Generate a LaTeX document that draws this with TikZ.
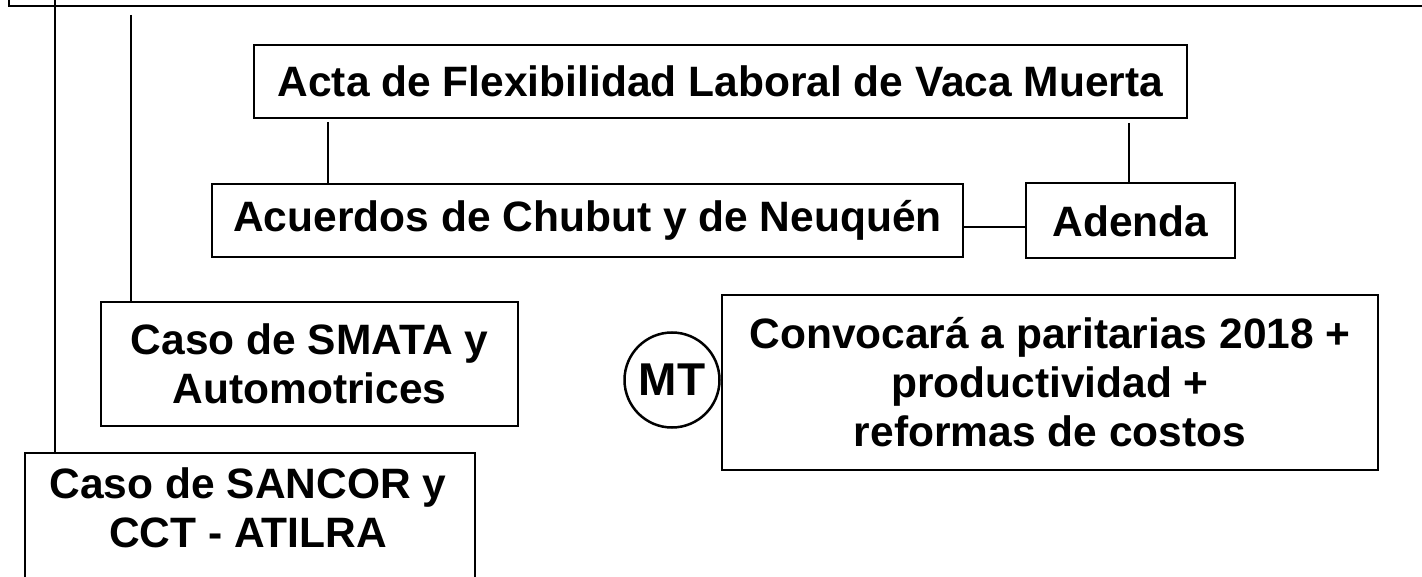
\documentclass[tikz,border=0pt]{standalone}
\usepackage{fontspec}
\setmainfont{Liberation Sans}
\begin{document}
\begin{tikzpicture}[x=1pt,y=-1pt,
  box/.style={draw, line width=2pt, inner sep=0pt, align=center,
    font=\bfseries\fontsize{42.5}{49}\selectfont},
  conn/.style={line width=1.6pt}]
\useasboundingbox (0,0) rectangle (1422,577);
\clip (0,0) rectangle (1422,577);
\node[draw, line width=2.5pt, minimum width=1441pt, minimum height=46pt, inner sep=0pt] (frame) at (729.5,-17) {};
\node[box, minimum width=933pt, minimum height=73pt] (acta) at (720.5,81.5) {Acta de Flexibilidad Laboral de Vaca Muerta};
\node[box, minimum width=751pt, minimum height=73pt] (acuerdos) at (587.5,220.5) {Acuerdos de Chubut y de Neuquén};
\node[box, minimum width=209pt, minimum height=75pt] (adenda) at (1130.5,221) {Adenda};
\node[box, minimum width=417pt, minimum height=124pt] (smata) at (309.5,364) {Caso de SMATA y\\Automotrices};
\node[box, minimum width=450pt, minimum height=150pt] (sancor) at (250,528) {};
\node[font=\bfseries\fontsize{42.5}{49}\selectfont, align=center, inner sep=0pt] (sancortxt) at (248,508) {Caso de SANCOR y\\CCT - ATILRA};
\node[box, minimum width=656pt, minimum height=175pt] (conv) at (1050,382.5) {Convocará a paritarias 2018 +\\productividad +\\reformas de costos};
\node[box, circle, line width=2.5pt, minimum size=95pt, font=\bfseries\fontsize{46}{50}\selectfont] (mt) at (672,380) {MT};
\coordinate (t1) at (55,0);
\coordinate (t2) at (131,15);
\draw[conn] (t1) -- (t1 |- sancor.north);
\draw[conn] (t2) -- (t2 |- smata.north);
\draw[conn] (328,122) coordinate (a1) -- (a1 |- acuerdos.north);
\draw[conn] (acta.south -| adenda.center) ++(-1.5,4) coordinate (a2) -- (a2 |- adenda.north);
\draw[conn] (acuerdos.east |- 0,227) -- (adenda.west |- 0,227);
\end{tikzpicture}
\end{document}
